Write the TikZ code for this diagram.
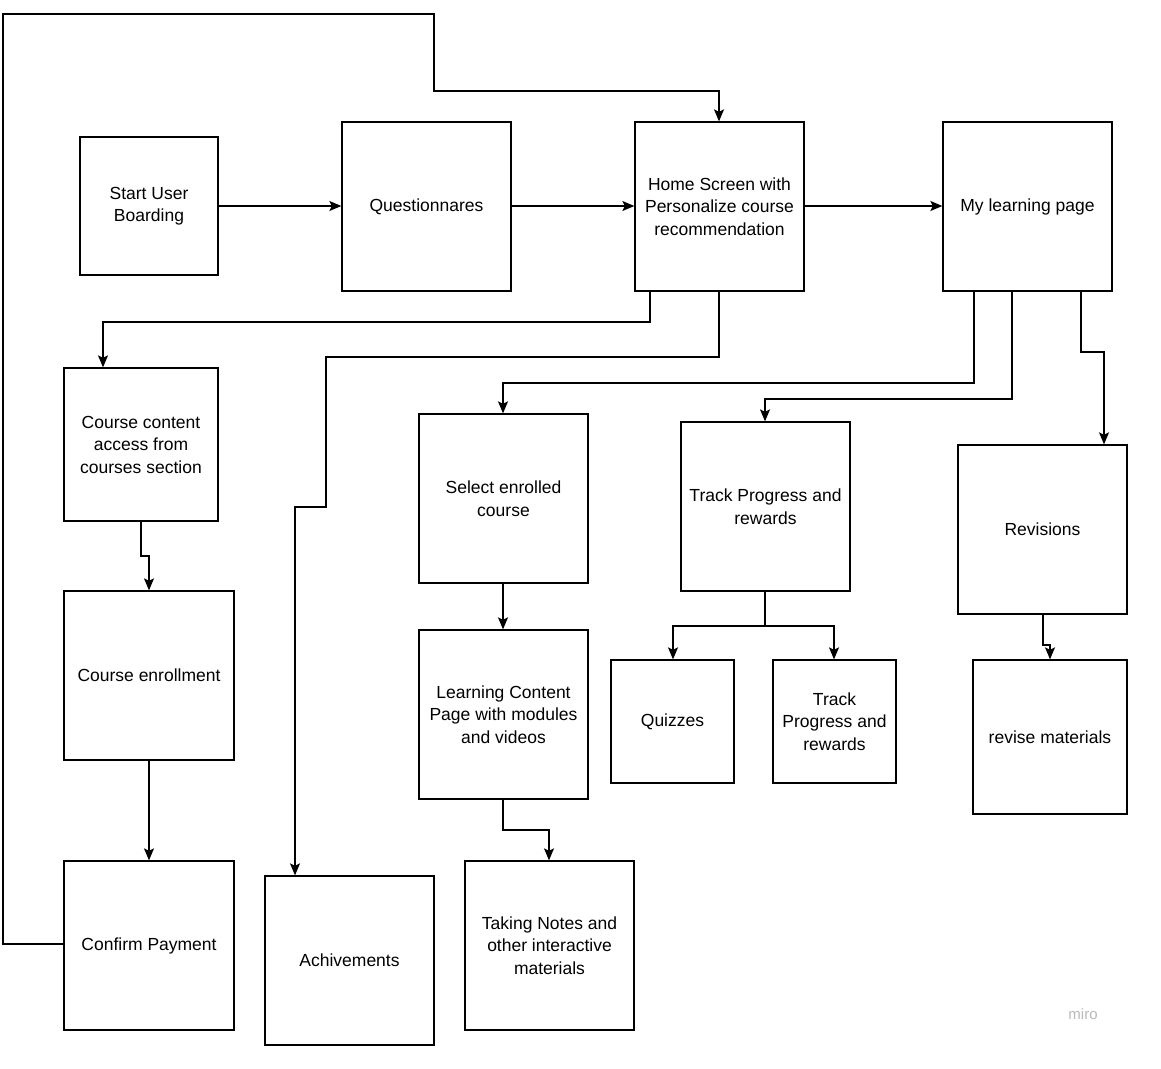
\documentclass[tikz,border=0pt]{standalone}
\usepackage{fontspec}
\setmainfont{Liberation Sans}
\usetikzlibrary{arrows.meta}
\begin{document}
\begin{tikzpicture}[x=1pt,y=-1pt,
  box/.style={draw,line width=1.3pt,align=center,font=\fontsize{17.5}{22.5}\selectfont},
  ar/.style={line width=1.3pt,-{Stealth[length=12pt,width=10pt,inset=2.5pt]}},
  ln/.style={line width=1.3pt}]
\useasboundingbox (0,0) rectangle (1161,1068);
\newcommand{\bx}[6]{\node[box,minimum width=#4-#2,minimum height=#5-#3] (#1) at ({(#2+#4)/2},{(#3+#5)/2}) {#6};}
\bx{start}{80}{137}{218}{275}{Start User\\Boarding}
\bx{quest}{342}{122}{511}{291}{Questionnares}
\bx{home}{635}{122}{804}{291}{Home Screen with\\Personalize course\\recommendation}
\bx{myl}{943}{122}{1112}{291}{My learning page}
\bx{cca}{64}{368}{218}{521}{Course content\\access from\\courses section}
\bx{enr}{64}{591}{234}{760}{Course enrollment}
\bx{pay}{64}{861}{234}{1030}{Confirm Payment}
\bx{ach}{265}{876}{434}{1045}{Achivements}
\bx{sel}{419}{414}{588}{583}{Select enrolled\\course}
\bx{lcp}{419}{630}{588}{799}{Learning Content\\Page with modules\\and videos}
\bx{notes}{465}{861}{634}{1030}{Taking Notes and\\other interactive\\materials}
\bx{track}{681}{422}{850}{591}{Track Progress and\\rewards}
\bx{quiz}{611}{660}{734}{783}{Quizzes}
\bx{track2}{773}{660}{896}{783}{Track\\Progress and\\rewards}
\bx{rev}{958}{445}{1127}{614}{Revisions}
\bx{revm}{973}{660}{1127}{814}{revise materials}
\node[text=gray!55,font=\fontsize{15}{18}\selectfont] (miro) at (1083,1014) {miro};

\draw[ar] (start.east|-0,206) -- (quest.west|-0,206);
\draw[ar] (quest.east|-0,206) -- (home.west|-0,206);
\draw[ar] (home.east|-0,206) -- (myl.west|-0,206);
\draw[ar] (pay.west|-0,944) -- (3,944) -- (3,14) -- (434,14) -- (434,91) -- (719,91) -- (home.north-|719,0);
\draw[ar] (home.south-|650,0) -- (650,322) -- (103,322) -- (cca.north-|103,0);
\draw[ar] (home.south-|719,0) -- (719,357) -- (326,357) -- (326,507) -- (295,507) -- (ach.north-|295,0);
\draw[ar] (myl.south-|974,0) -- (974,383) -- (503,383) -- (sel.north-|503,0);
\draw[ar] (myl.south-|1012,0) -- (1012,399) -- (765,399) -- (track.north-|765,0);
\draw[ar] (myl.south-|1081,0) -- (1081,352) -- (1104,352) -- (rev.north-|1104,0);
\draw[ar] (cca.south-|141,0) -- (141,556) -- (149,556) -- (enr.north-|149,0);
\draw[ar] (enr.south-|149,0) -- (pay.north-|149,0);
\draw[ar] (sel.south-|503,0) -- (lcp.north-|503,0);
\draw[ar] (lcp.south-|503,0) -- (503,830) -- (549,830) -- (notes.north-|549,0);
\draw[ar] (track.south-|765,0) -- (765,626) -- (673,626) -- (quiz.north-|673,0);
\draw[ar] (765,626) -- (834,626) -- (track2.north-|834,0);
\draw[ar] (rev.south-|1043,0) -- (1043,645) -- (1050,645) -- (revm.north-|1050,0);
\end{tikzpicture}
\end{document}
